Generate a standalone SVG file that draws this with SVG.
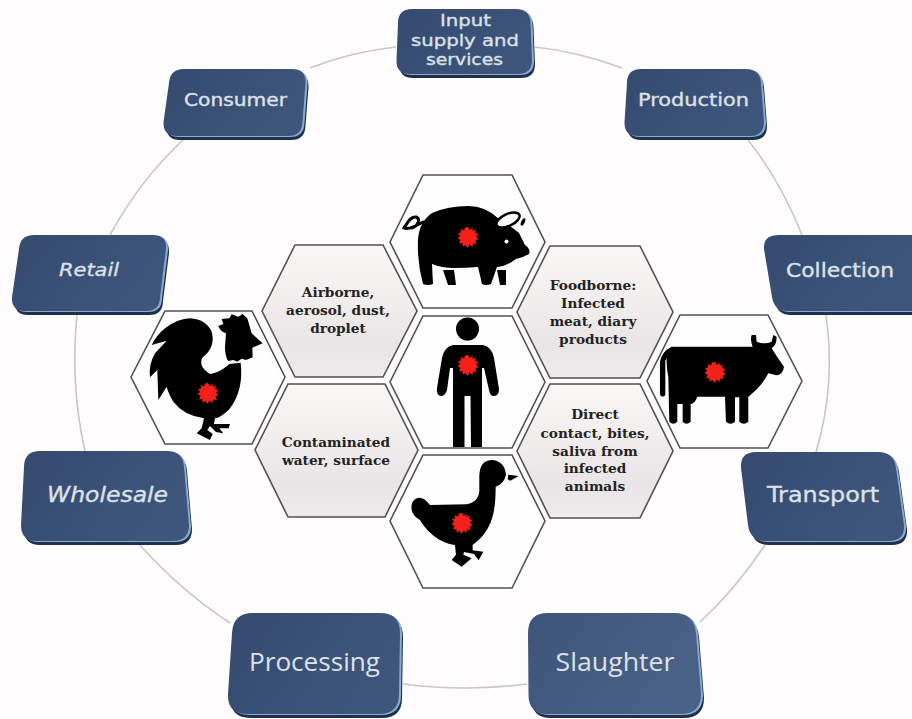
<svg xmlns="http://www.w3.org/2000/svg" width="912" height="719" viewBox="0 0 912 719">
<defs>
<linearGradient id="faceG" x1="0" y1="0" x2="1" y2="0.4"><stop offset="0" stop-color="#344a6f"/><stop offset="1" stop-color="#3f567c"/></linearGradient>
<linearGradient id="faceL" x1="0" y1="0" x2="1" y2="0.4"><stop offset="0" stop-color="#3e5579"/><stop offset="1" stop-color="#4a6287"/></linearGradient>
<linearGradient id="hexG" x1="0" y1="0" x2="0" y2="1"><stop offset="0" stop-color="#fbf7f6"/><stop offset="0.75" stop-color="#e9e5e6"/><stop offset="1" stop-color="#efebec"/></linearGradient>
<polygon id="splat" points="0,-10 2,-7 4.5,-9.5 4.8,-6 8,-7.5 7,-4 10.5,-3 8,-0.5 10.5,2 7.5,3.5 8.5,7 5,6.5 4.5,10 1.5,7.5 -0.5,11 -2.5,8 -5.5,9.5 -5.5,6 -9,6.5 -7.5,3 -10.5,1 -8,-1 -10,-4 -6.8,-4.5 -7.5,-8 -4,-6.5 -3,-9.5"/>
<style>
.bg{fill:#fefcfd}
.ring{fill:none;stroke:#c6c6cc;stroke-width:1.6}
.base{fill:#1e304c}
.hl{fill:#8ea9d0}
.face{fill:url(#faceG)}
.facel{fill:url(#faceL)}
.lbl{font-family:"DejaVu Sans",sans-serif;fill:#dde1e8;stroke:#dde1e8;stroke-width:0.35;text-anchor:middle}
.lbo{font-family:"Open Sans",sans-serif;fill:#dde1e8;text-anchor:middle}
.hexw{fill:#fefdfd;stroke:#505050;stroke-width:1.6}
.hext{fill:url(#hexG);stroke:#505050;stroke-width:1.6}
.ht{font-family:"DejaVu Serif",serif;font-weight:700;font-size:13.7px;fill:#222;text-anchor:middle}
.sil{fill:#000}
.sp{fill:#f4211b}
</style>
</defs>
<rect class="bg" width="912" height="719"/>
<g id="connectors">
<path class="ring" d="M310,68 Q350,52 396,47"/>
<path class="ring" d="M535,47 Q580,52 622,68"/>
<path class="ring" d="M748,140 Q780,180 802,235"/>
<path class="ring" d="M826,315 Q836,385 816,452"/>
<path class="ring" d="M765,545 Q735,590 700,622"/>
<path class="ring" d="M403,684 Q465,692 527,684"/>
<path class="ring" d="M140,545 Q180,590 230,623"/>
<path class="ring" d="M77,315 Q70,385 85,451"/>
<path class="ring" d="M110,235 Q140,180 183,140"/>
</g>
<g id="node-input"><path class="base" transform="translate(3,4)" d="M412,9 H516 Q530,9 530.500,23 L532,60 Q532,74 518,74 H410 Q396,74 396.500,60 L398,23 Q398,9 412,9Z"/><path class="hl" transform="translate(2,1)" d="M412,9 H516 Q530,9 530.500,23 L532,60 Q532,74 518,74 H410 Q396,74 396.500,60 L398,23 Q398,9 412,9Z"/><path class="face" d="M412,9 H516 Q530,9 530.500,23 L532,60 Q532,74 518,74 H410 Q396,74 396.500,60 L398,23 Q398,9 412,9Z"/><text class="lbl" font-size="16.500" x="465.500" y="26" textLength="51" lengthAdjust="spacingAndGlyphs">Input</text><text class="lbl" font-size="16.500" x="465" y="45.500" textLength="108" lengthAdjust="spacingAndGlyphs">supply and</text><text class="lbl" font-size="16.500" x="464.500" y="65" textLength="77" lengthAdjust="spacingAndGlyphs">services</text></g>
<g id="node-production"><path class="base" transform="translate(3,4)" d="M641,69 H746 Q760,69 761,83 L764,122 Q764,136 750,136 H638 Q624,136 624.500,122 L627,83 Q627,69 641,69Z"/><path class="hl" transform="translate(2,1)" d="M641,69 H746 Q760,69 761,83 L764,122 Q764,136 750,136 H638 Q624,136 624.500,122 L627,83 Q627,69 641,69Z"/><path class="face" d="M641,69 H746 Q760,69 761,83 L764,122 Q764,136 750,136 H638 Q624,136 624.500,122 L627,83 Q627,69 641,69Z"/><text class="lbl" font-size="17" x="693.500" y="106" textLength="111" lengthAdjust="spacingAndGlyphs">Production</text></g>
<g id="node-collection"><path class="base" transform="translate(3,4)" d="M779,235 H912 V311 H788 Q774,311 772,297 L764,249 Q763,235 779,235Z"/><path class="hl" transform="translate(2,1)" d="M779,235 H912 V311 H788 Q774,311 772,297 L764,249 Q763,235 779,235Z"/><path class="face" d="M779,235 H912 V311 H788 Q774,311 772,297 L764,249 Q763,235 779,235Z"/><text class="lbl" font-size="19" x="840" y="276.500" textLength="108" lengthAdjust="spacingAndGlyphs">Collection</text></g>
<g id="node-transport"><path class="base" transform="translate(3,4)" d="M756,452 H878 Q894,452 896,468 L904,525 Q905,541 889,541 H766 Q750,541 748,525 L741,468 Q740,452 756,452Z"/><path class="hl" transform="translate(2,1)" d="M756,452 H878 Q894,452 896,468 L904,525 Q905,541 889,541 H766 Q750,541 748,525 L741,468 Q740,452 756,452Z"/><path class="face" d="M756,452 H878 Q894,452 896,468 L904,525 Q905,541 889,541 H766 Q750,541 748,525 L741,468 Q740,452 756,452Z"/><text class="lbl" font-size="21" x="823" y="502" textLength="112" lengthAdjust="spacingAndGlyphs">Transport</text></g>
<g id="node-slaughter"><path class="base" transform="translate(3,4)" d="M548,613 H674 Q694,613 696,633 L701,694 Q701,714 681,714 H548 Q528,714 528.500,694 L528,633 Q528,613 548,613Z"/><path class="hl" transform="translate(2,1)" d="M548,613 H674 Q694,613 696,633 L701,694 Q701,714 681,714 H548 Q528,714 528.500,694 L528,633 Q528,613 548,613Z"/><path class="facel" d="M548,613 H674 Q694,613 696,633 L701,694 Q701,714 681,714 H548 Q528,714 528.500,694 L528,633 Q528,613 548,613Z"/><text class="lbo" font-size="26" font-weight="500" x="615" y="671" textLength="119" lengthAdjust="spacingAndGlyphs">Slaughter</text></g>
<g id="node-processing"><path class="base" transform="translate(3,4)" d="M253,613 H380 Q400,613 400,633 L399,694 Q399,714 379,714 H247 Q227,714 228,694 L232,633 Q233,613 253,613Z"/><path class="hl" transform="translate(2,1)" d="M253,613 H380 Q400,613 400,633 L399,694 Q399,714 379,714 H247 Q227,714 228,694 L232,633 Q233,613 253,613Z"/><path class="face" d="M253,613 H380 Q400,613 400,633 L399,694 Q399,714 379,714 H247 Q227,714 228,694 L232,633 Q233,613 253,613Z"/><text class="lbo" font-size="26" font-weight="500" x="314.500" y="671" textLength="131" lengthAdjust="spacingAndGlyphs">Processing</text></g>
<g id="node-wholesale"><path class="base" transform="translate(3,4)" d="M40,451 H167 Q183,451 184,467 L189,525 Q189,541 173,541 H37 Q21,541 21,525 L24,467 Q24,451 40,451Z"/><path class="hl" transform="translate(2,1)" d="M40,451 H167 Q183,451 184,467 L189,525 Q189,541 173,541 H37 Q21,541 21,525 L24,467 Q24,451 40,451Z"/><path class="face" d="M40,451 H167 Q183,451 184,467 L189,525 Q189,541 173,541 H37 Q21,541 21,525 L24,467 Q24,451 40,451Z"/><text class="lbl" font-size="21" font-style="italic" x="107.500" y="502" textLength="121" lengthAdjust="spacingAndGlyphs">Wholesale</text></g>
<g id="node-retail"><path class="base" transform="translate(3,4)" d="M34,235 H153 Q167,235 166,249 L160,297 Q160,311 146,311 H25 Q11,311 12,297 L19,249 Q20,235 34,235Z"/><path class="hl" transform="translate(2,1)" d="M34,235 H153 Q167,235 166,249 L160,297 Q160,311 146,311 H25 Q11,311 12,297 L19,249 Q20,235 34,235Z"/><path class="face" d="M34,235 H153 Q167,235 166,249 L160,297 Q160,311 146,311 H25 Q11,311 12,297 L19,249 Q20,235 34,235Z"/><text class="lbl" font-size="18.500" font-style="italic" x="89" y="276" textLength="60" lengthAdjust="spacingAndGlyphs">Retail</text></g>
<g id="node-consumer"><path class="base" transform="translate(3,4)" d="M184,69 H292 Q306,69 305.500,83 L302.500,122 Q302,136 288,136 H177 Q163,136 163.500,122 L169,83 Q170,69 184,69Z"/><path class="hl" transform="translate(2,1)" d="M184,69 H292 Q306,69 305.500,83 L302.500,122 Q302,136 288,136 H177 Q163,136 163.500,122 L169,83 Q170,69 184,69Z"/><path class="face" d="M184,69 H292 Q306,69 305.500,83 L302.500,122 Q302,136 288,136 H177 Q163,136 163.500,122 L169,83 Q170,69 184,69Z"/><text class="lbl" font-size="17" x="235.500" y="106" textLength="103" lengthAdjust="spacingAndGlyphs">Consumer</text></g>

<g id="hex-rooster"><polygon class="hexw" points="131,377 165,311 252,311 285,377 252,444 165,444"/>
<g transform="translate(130,170) scale(0.3333)"><path class="sil" d="M105,475 Q145,445 180,445 Q228,448 245,485 Q258,530 218,562 Q203,590 240,612 Q270,608 298,582 L332,578 Q342,660 298,718 Q270,745 255,745 L252,762 L300,762 L296,775 L268,775 L280,790 L258,786 L240,768 L232,780 L248,792 L240,810 L200,790 L215,775 L222,745 Q160,735 130,695 Q115,670 110,650 L85,690 L82,600 L60,622 Q55,585 75,550 L110,512 L65,525 Q80,495 105,475Z"/><path class="sil" d="M265,468 L280,462 L275,447 L298,445 L305,433 L325,440 L338,432 L352,445 L365,490 L398,520 L367,533 L368,562 L348,570 L335,566 L322,575 L310,570 L295,573 Q285,560 285,530 L288,490 Q272,485 265,468Z"/></g>
<use href="#splat" class="sp" x="208" y="393"/></g>

<g id="hex-pig"><polygon class="hexw" points="390,242 423,175 512,175 545,242 512,308 423,308"/>
<path class="sil" d="M418,240 Q419,222 432,213 Q448,206 468,206 Q486,206 499,219 Q511,226 519,233 L525,245 Q531,249 529,254 Q522,258 516,259 Q507,266 497,267 L491,284 Q486,286 482,284 L478,267 Q465,268 454,268 Q442,268 432,264 L433,284 Q428,286 423,284 Q417,262 418,240Z"/>
<path class="sil" d="M443,270 L454,270 L456,285 L448,285Z"/><path class="sil" d="M497,270 L506,270 L506,285 L500,285Z"/>
<path d="M423,222 C416,226 408,230 404,228 C407,224 410,216 416,217 C421,219 418,226 412,228" fill="none" stroke="#000" stroke-width="3" stroke-linecap="round"/>
<ellipse cx="508" cy="220" rx="12.500" ry="6" transform="rotate(-25 508 220)" fill="#fefdfd" stroke="#000" stroke-width="2.500"/>
<ellipse cx="523" cy="222" rx="1.800" ry="4" transform="rotate(25 523 222)" fill="#000"/>
<circle cx="506.500" cy="241.500" r="2" fill="#fefdfd"/>
<use href="#splat" class="sp" x="468" y="237"/></g>

<g id="hex-person"><polygon class="hexw" points="390,382 423,316 512,316 545,382 512,448 423,448"/>
<circle class="sil" cx="467.500" cy="329" r="11.500"/>
<path class="sil" d="M453,345 H483 Q492,347 494,358 L499,389 Q499,396 494,396 Q490,396 489,390 L484,368 L482,368 L482,447 L471,447 L470.500,396 L464.500,396 L464.500,447 L453,447 L453,368 L450,368 L447,390 Q445,396 441,396 Q436,395 437,388 L442,358 Q444,347 453,345Z"/>
<use href="#splat" class="sp" x="468" y="365"/></g>

<g id="hex-duck"><polygon class="hexw" points="390,521 423,455 512,455 545,521 512,588 423,588"/>
<g transform="translate(250,380) scale(0.3333)"><path class="sil" d="M688,285 Q690,240 728,240 Q765,245 768,285 Q762,312 737,320 C737,390 730,450 668,495 L668,511 L700,515 L686,541 L672,522 L642,516 L640,524 L665,535 L635,560 L605,540 L618,524 L615,495 C570,490 530,455 510,420 C480,405 478,370 495,358 C510,345 530,360 540,375 L650,373 Q688,365 688,330Z"/><path class="sil" d="M775,284 L806,288 L781,302 L773,298Z"/></g>
<use href="#splat" class="sp" x="462" y="523"/></g>

<g id="hex-cow"><polygon class="hexw" points="647,381 680,315 768,315 802,381 768,448 680,448"/>
<g transform="translate(440,170) scale(0.3333)"><path class="sil" d="M660,575 Q665,545 695,530 L938,530 Q930,510 935,495 L948,495 L950,515 Q975,525 995,515 L1000,495 L1010,500 Q1010,525 995,535 Q1010,560 1032,590 Q1030,612 1010,616 L985,610 Q965,650 925,680 L925,755 Q912,768 898,755 L898,682 L885,682 L885,755 Q872,768 858,755 L855,680 L772,680 Q765,700 752,702 L752,755 Q740,768 728,755 L728,702 L712,702 L712,755 Q700,768 688,755 L685,620 Q680,600 680,565 L676,572 L676,675 Q668,685 660,675Z"/></g>
<use href="#splat" class="sp" x="715" y="372"/></g>

<g id="hex-airborne"><polygon class="hext" points="262,311 295,245 383,245 417,311 383,377 295,377"/><text class="ht" x="338" y="297">Airborne,</text><text class="ht" x="338" y="315">aerosol, dust,</text><text class="ht" x="338" y="333">droplet</text></g>
<g id="hex-foodborne"><polygon class="hext" points="517,312 550,246 640,246 673,312 640,378 550,378"/><text class="ht" x="593" y="290">Foodborne:</text><text class="ht" x="593" y="308">Infected</text><text class="ht" x="593" y="325.500">meat, diary</text><text class="ht" x="593" y="343.500">products</text></g>
<g id="hex-contaminated"><polygon class="hext" points="255,450 288,384 385,384 418,450 385,517 288,517"/><text class="ht" x="336" y="446.500">Contaminated</text><text class="ht" x="336" y="465">water, surface</text></g>
<g id="hex-direct"><polygon class="hext" points="517,451 550,384 640,384 673,451 640,518 550,518"/><text class="ht" x="595" y="419">Direct</text><text class="ht" x="595" y="438">contact, bites,</text><text class="ht" x="595" y="456">saliva from</text><text class="ht" x="595" y="473">infected</text><text class="ht" x="595" y="491">animals</text></g>
</svg>
